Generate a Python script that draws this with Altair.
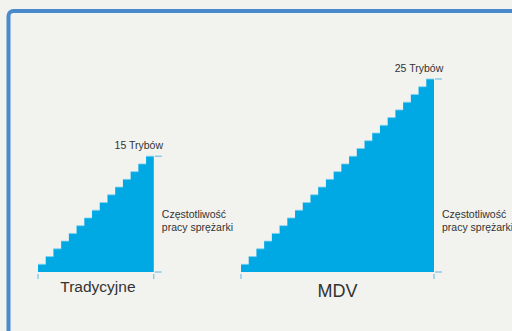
import altair as alt
import pandas as pd

# ---- data ----
CATEGORIES = ["Tradycyjne", "MDV"]
MODES = [15, 25]
TOP_LABELS = ["15 Trybów", "25 Trybów"]
SIDE_LABEL = "Częstotliwość\npracy sprężarki"

# ---- layout constants (pixels) ----
W, H = 512, 331
STEP = 7.72          # pixels per mode step
BASE_PX = 272        # baseline of both staircases
X0_PX = [38, 241]    # left edge of each staircase
NAME_DROP_PX = [20, 25]
NAME_SIZE = [15.5, 18]
NAME_DX = [2, 0]

u = lambda px: px / STEP  # pixel -> unit

xs = alt.Scale(domain=[0, W / STEP], nice=False, zero=False)
ys = alt.Scale(domain=[-(H - BASE_PX) / STEP, BASE_PX / STEP], nice=False, zero=False)

step_rows, top_rows, tick_h, tick_v, side_rows, name_rows = [], [], [], [], [], []
for g, (cat, n, lab) in enumerate(zip(CATEGORIES, MODES, TOP_LABELS)):
    x0 = u(X0_PX[g])
    for i in range(n + 1):
        step_rows.append({"group": cat, "x": x0 + i, "y": (i + 1) if i < n else n})
        if i < n:
            top_rows.append({"group": cat, "x": x0 + i, "x2": x0 + i + 1, "y": i + 1})
    xr = x0 + n
    for yy in (0, n):
        tick_h.append({"x": xr + u(1), "x2": xr + u(8), "y": yy})
    for xx in (x0, xr):
        tick_v.append({"x": xx, "y": -u(2), "y2": -u(7)})
    side_rows.append({"x": xr + u(8), "y": u(54), "t": SIDE_LABEL})
    name_rows.append({"x": x0 + n / 2, "y": -u(NAME_DROP_PX[g]), "t": cat, "g": g})

top_lab = pd.DataFrame({
    "x": [u(X0_PX[g]) + MODES[g] - u(15) for g in range(2)],
    "y": MODES,
    "t": TOP_LABELS,
})

X = lambda f="x": alt.X(f"{f}:Q", scale=xs, axis=None)
Y = lambda f="y": alt.Y(f"{f}:Q", scale=ys, axis=None)

border = alt.Chart(pd.DataFrame({"a": [0]})).mark_rect(
    fill="#f2f2ee", fillOpacity=0, stroke="#4a89cb", strokeWidth=4, cornerRadius=5
).encode(x=alt.value(8.5), y=alt.value(11), x2=alt.value(560), y2=alt.value(380))

area = alt.Chart(pd.DataFrame(step_rows)).mark_area(
    interpolate="step-after", color="#00a9e3", opacity=1
).encode(x=X(), y=Y(), y2=alt.datum(0), detail="group:N")

highlight = alt.Chart(pd.DataFrame(top_rows)).mark_rule(
    color="#7fd3f2", strokeWidth=1, opacity=0.8
).encode(x=X(), x2="x2:Q", y=Y())

ticks_h = alt.Chart(pd.DataFrame(tick_h)).mark_rule(
    color="#5bb9e8", strokeWidth=1
).encode(x=X(), x2="x2:Q", y=Y())

ticks_v = alt.Chart(pd.DataFrame(tick_v)).mark_rule(
    color="#5bb9e8", strokeWidth=1
).encode(x=X(), y=Y(), y2="y2:Q")

top_text = alt.Chart(top_lab).mark_text(
    font="Liberation Sans", fontSize=10.5, color="#333333", align="center",
    baseline="alphabetic", dy=-7
).encode(x=X(), y=Y(), text="t:N")

side_text = alt.Chart(pd.DataFrame(side_rows)).mark_text(
    font="Liberation Sans", fontSize=10.5, color="#333333", align="left",
    baseline="alphabetic", lineBreak="\n", lineHeight=13
).encode(x=X(), y=Y(), text="t:N")

names = []
for g in range(2):
    names.append(
        alt.Chart(pd.DataFrame([name_rows[g]])).mark_text(
            font="Liberation Sans", fontSize=NAME_SIZE[g], color="#333333",
            align="center", baseline="alphabetic", dx=NAME_DX[g]
        ).encode(x=X(), y=Y(), text="t:N")
    )

chart = alt.layer(
    border, area, highlight, ticks_h, ticks_v, top_text, side_text, *names
).properties(
    width=W, height=H, padding=0, background="#f2f2ee",
    autosize=alt.AutoSizeParams(type="none")
).configure_view(stroke=None)

chart.save("out.html", embed_options={"renderer": "svg", "actions": False})
